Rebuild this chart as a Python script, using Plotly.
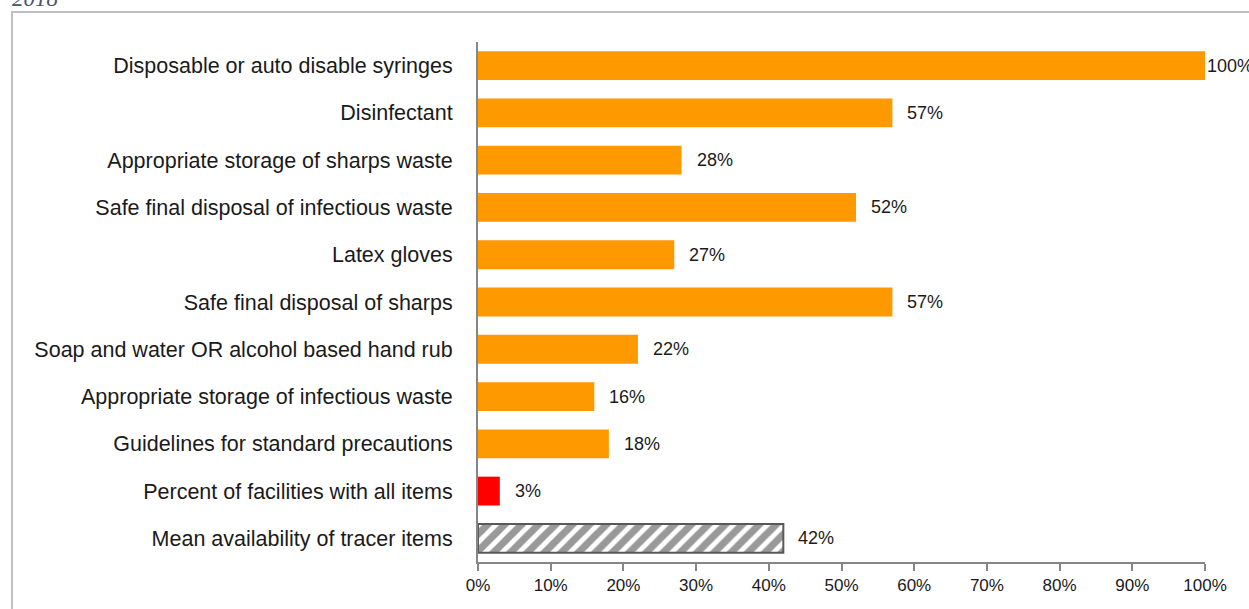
import plotly.graph_objects as go

# tracer items for standard precautions (share of facilities)
items = [
    "Disposable or auto disable syringes",
    "Disinfectant",
    "Appropriate storage of sharps waste",
    "Safe final disposal of infectious waste",
    "Latex gloves",
    "Safe final disposal of sharps",
    "Soap and water OR alcohol based hand rub",
    "Appropriate storage of infectious waste",
    "Guidelines for standard precautions",
    "Percent of facilities with all items",
    "Mean availability of tracer items",
]
values = [1.00, 0.57, 0.28, 0.52, 0.27, 0.57, 0.22, 0.16, 0.18, 0.03, 0.42]
labels = ["100%", "57%", "28%", "52%", "27%", "57%", "22%", "16%", "18%", "3%", "42%"]

ORANGE = "#FF9900"
GREY = "#868686"

W, H = 1249, 609
L, R, T, B = 478, 44, 42, 47

fig = go.Figure()

# plain tracer bars
fig.add_trace(go.Bar(
    x=values[:9], y=items[:9], orientation="h",
    marker=dict(color=ORANGE, line=dict(width=0)),
    width=0.61, showlegend=False, hoverinfo="x+y",
))
# all items
fig.add_trace(go.Bar(
    x=values[9:10], y=items[9:10], orientation="h",
    marker=dict(color="#FF0000", line=dict(width=0)),
    width=0.61, showlegend=False,
))
# mean availability - hatched
fig.add_trace(go.Bar(
    x=values[10:], y=items[10:], orientation="h",
    marker=dict(color="white",
                line=dict(color="#595959", width=2),
                pattern=dict(shape="/", fgcolor="#333333", bgcolor="white",
                             size=12, solidity=0.6)),
    width=0.61, showlegend=False,
))

# value labels just past the bar ends
for it, v, lab in zip(items, values, labels):
    fig.add_annotation(
        x=v, y=it, text=lab, showarrow=False,
        xanchor="left", xshift=0 if v >= 1 else 13,
        font=dict(family="Liberation Sans, Arial", size=18, color="#1a1a1a"),
    )

# "2018" bit of the caption above, cut off by the top edge
plot_h = H - T - B
plot_w = W - L - R
fig.add_annotation(
    xref="paper", yref="paper",
    x=(10 - L) / plot_w, y=(H - B - 13) / plot_h,
    xanchor="left", yanchor="bottom", showarrow=False,
    text="<i>2018</i>",
    font=dict(family="Liberation Serif, DejaVu Serif", size=23, color="#4a5466"),
)

# outer frame (runs off the right and bottom of the picture)
fig.add_shape(
    type="rect", xref="paper", yref="paper",
    x0=(12 - L) / plot_w, x1=(W + 20 - L) / plot_w,
    y0=(H - B - (H + 20)) / plot_h, y1=(H - B - 12) / plot_h,
    line=dict(color="#C0C0C0", width=2), fillcolor="rgba(0,0,0,0)",
    layer="below",
)

fig.update_layout(
    width=W, height=H,
    margin=dict(l=L, r=R, t=T, b=B),
    plot_bgcolor="white", paper_bgcolor="white",
    bargap=0.39,
    font=dict(family="Liberation Sans, Arial", color="#1a1a1a"),
)
fig.update_xaxes(
    range=[0, 1], dtick=0.1, tickformat=".0%",
    showgrid=False, zeroline=False,
    showline=True, linecolor=GREY, linewidth=2,
    ticks="outside", ticklen=7, tickwidth=2, tickcolor=GREY,
    tickfont=dict(size=17, color="#1a1a1a"),
)
fig.update_yaxes(
    categoryorder="array", categoryarray=items, autorange="reversed",
    showgrid=False, zeroline=False,
    showline=True, linecolor=GREY, linewidth=2,
    ticks="", ticklabelstandoff=19,
    tickfont=dict(size=21.5, color="#1a1a1a"),
)

# drop the browser's default body margin so the figure sits at the corner
fig.write_html("out.html", config={"displayModeBar": False},
               post_script="document.body.style.margin='0';")
